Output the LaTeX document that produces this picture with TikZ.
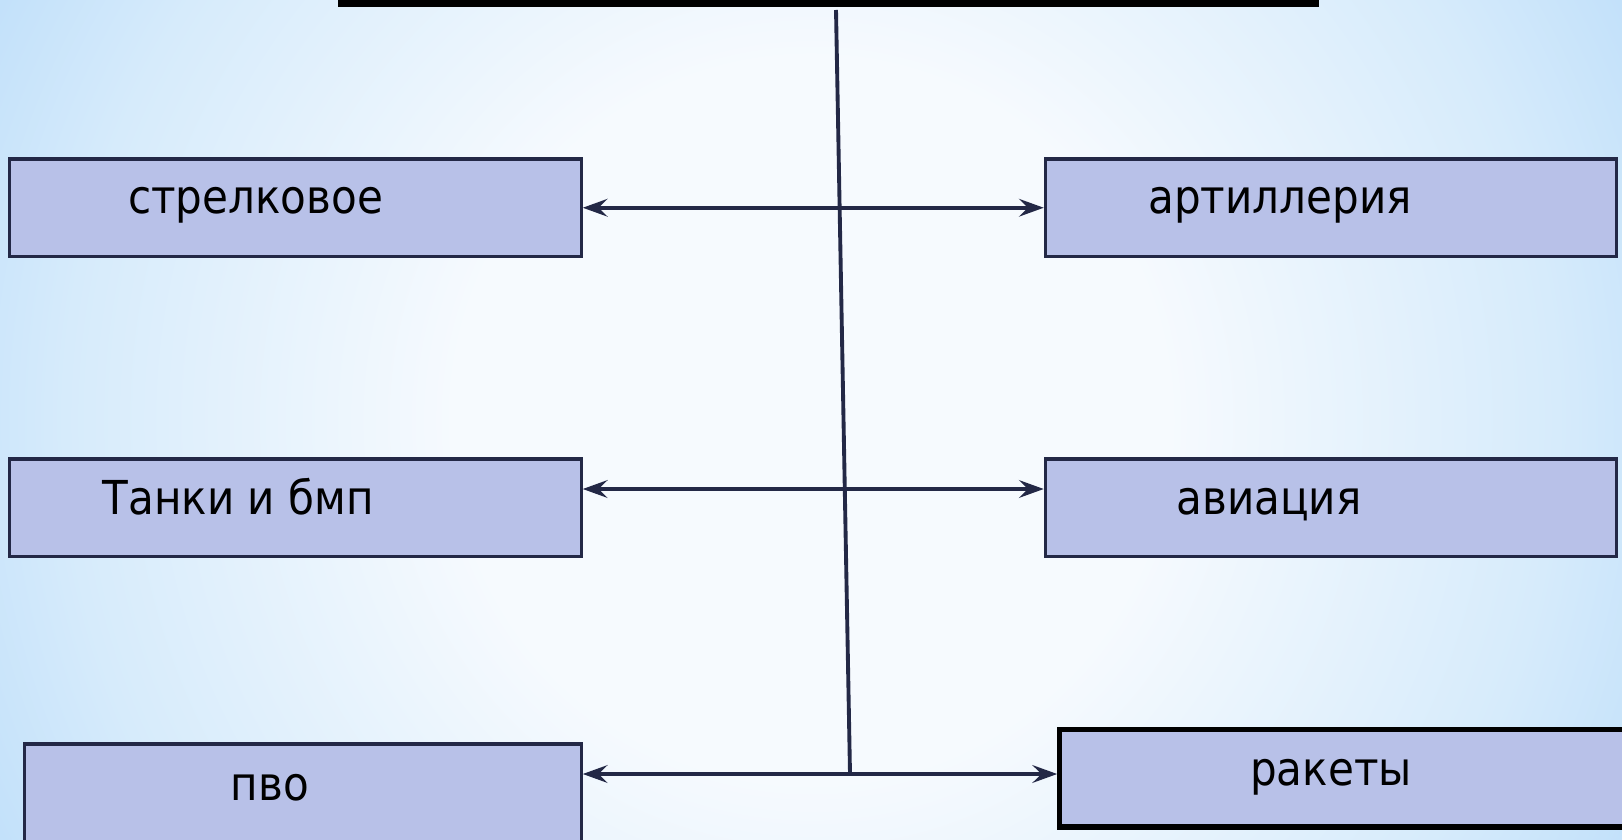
\documentclass[tikz,border=0pt]{standalone}
\usepackage{fontspec}
\setmainfont{DejaVu Sans Condensed}
\usetikzlibrary{positioning, arrows.meta}
\definecolor{boxfill}{HTML}{B8C1E8}
\definecolor{boxline}{HTML}{232846}
\definecolor{bgwhite}{HTML}{F6FAFE}
\definecolor{bgmid}{HTML}{D6EBFB}
\definecolor{bgblue}{HTML}{C3E1FA}
\pgfdeclareradialshading{backdrop}{\pgfpoint{0bp}{0bp}}{color(0bp)=(bgwhite); color(11bp)=(bgwhite); color(23bp)=(bgmid); color(28bp)=(bgblue); color(50bp)=(bgblue)}
\tikzset{branch/.style = {draw=boxline, fill=boxfill, line width=0.9pt, inner sep=0pt, minimum width=5.71cm, minimum height=0.975cm}}
\tikzset{missile/.style = {branch, draw=black, line width=1.5pt}}
\tikzset{caption/.style = {anchor=base, inner sep=0pt, font=\fontsize{13.3}{16}\selectfont}}
\tikzset{link/.style = {<->, color=boxline, line width=1.2pt}}

\begin{document}
\begin{tikzpicture}[x=0.01cm, y=-0.01cm, >={Stealth[length=7pt, width=5pt, inset=2.5pt]}]
  \useasboundingbox (0,0) rectangle (1622,840);
  \clip (0,0) rectangle (1622,840);
  \shade[shading=backdrop] (0,-400) rectangle (1622,1240);

  \node [fill=black, inner sep=0pt, minimum width=9.81cm, minimum height=0.15cm] (head) at (828.5,0) {};

  \node [branch] (strel) at (295.5,207.75) {};
  \node [branch] (artil) at (1331,207.75) {};
  \node [branch] (tanki) at (295.5,507.75) {};
  \node [branch] (avia) at (1331,507.75) {};
  \node [branch, minimum width=5.56cm, minimum height=1.1cm] (pvo) at (303,799) {};
  \node [missile, minimum width=6cm] (raket) at (1360,778.25) {};

  \node [caption] (strel-t) at (255.6,214) {стрелковое};
  \node [caption] (artil-t) at (1280,214) {артиллерия};
  \node [caption] (tanki-t) at (238.5,514) {Танки и бмп};
  \node [caption] (avia-t) at (1269,514) {авиация};
  \node [caption] (pvo-t) at (270,800) {пво};
  \node [caption] (raket-t) at (1331,785) {ракеты};

  \coordinate (top) at (836,10);
  \coordinate (join) at (850,774);

  \draw[color=boxline, line width=1.1pt] (top) -- (join);
  \path[link] (strel.east) edge (artil.west);
  \path[link] ([yshift=5.33pt]tanki.east) edge ([yshift=5.33pt]avia.west);
  \path[link] (pvo.east |- join) edge (raket.west |- join);
\end{tikzpicture}
\end{document}
